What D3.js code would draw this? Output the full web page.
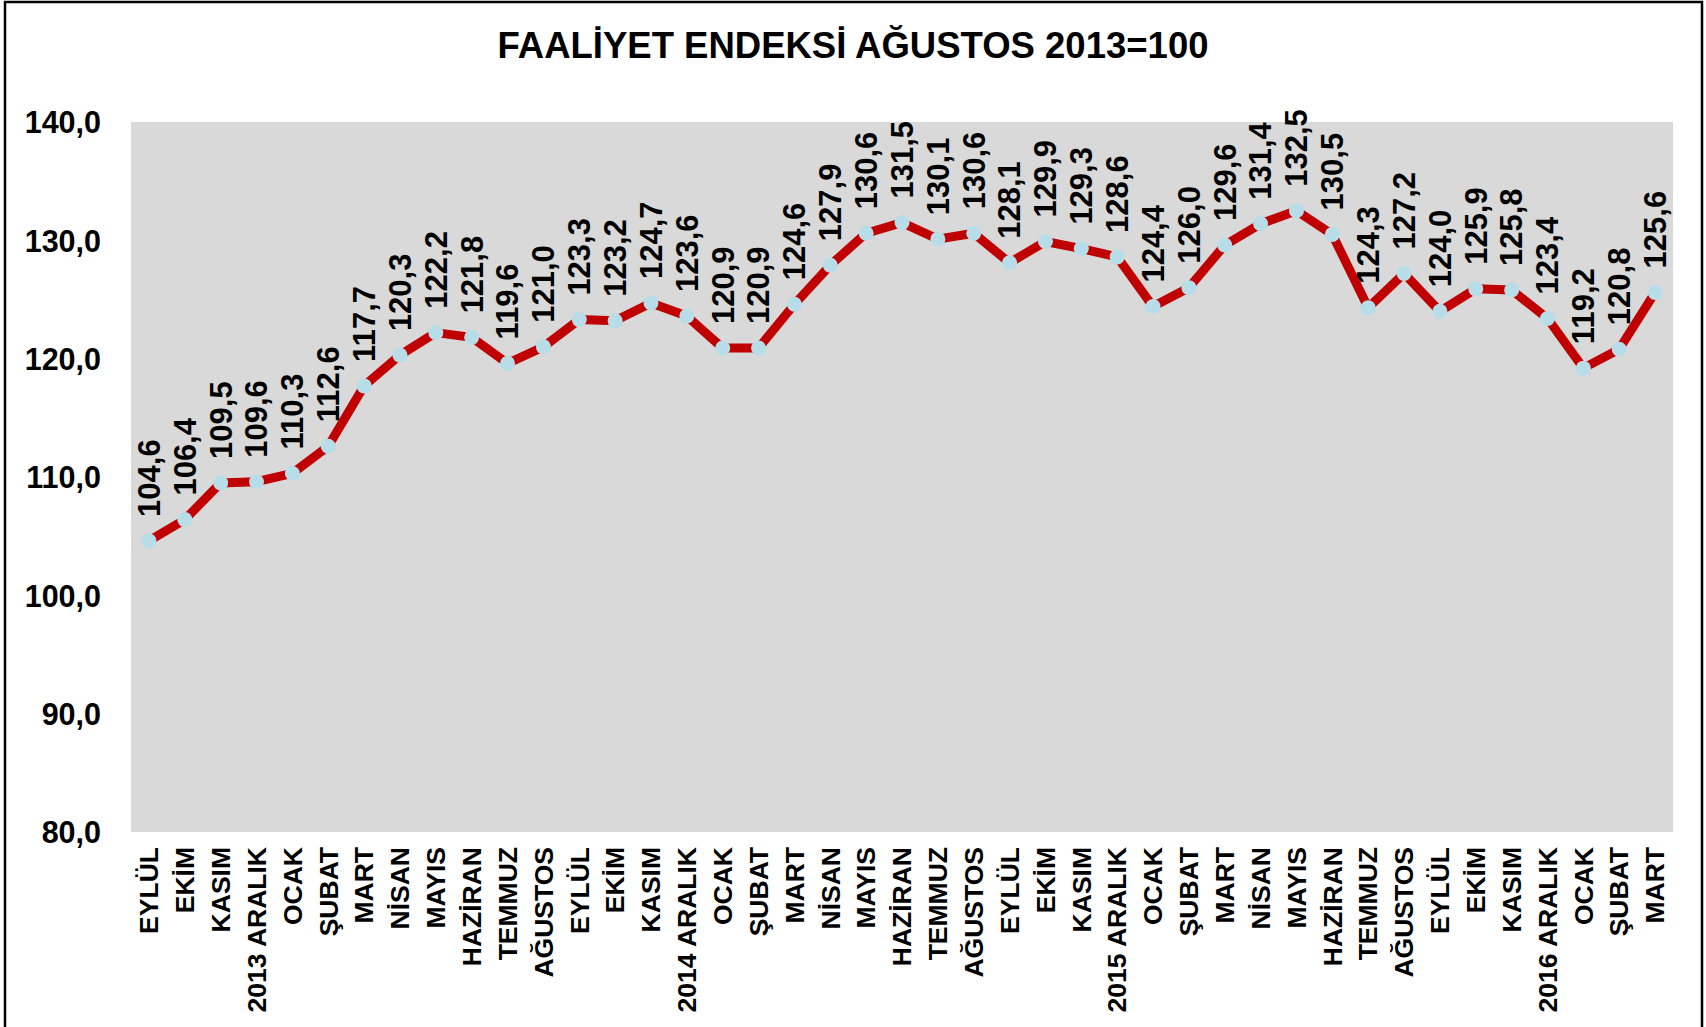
<!DOCTYPE html>
<html>
<head>
<meta charset="utf-8">
<script src="https://cdn.jsdelivr.net/npm/d3@7"></script>
<style>
  body { margin: 0; background: #fff; }
  text { font-family: "Liberation Sans", Arial, sans-serif; font-weight: bold; fill: #000; }
</style>
</head>
<body>
<svg id="chart" width="1706" height="1027"></svg>
<script>
// months (x axis categories)
var months = ["EYLÜL", "EKİM", "KASIM", "2013 ARALIK", "OCAK", "ŞUBAT", "MART", "NİSAN", "MAYIS", "HAZİRAN",
  "TEMMUZ", "AĞUSTOS", "EYLÜL", "EKİM", "KASIM", "2014 ARALIK", "OCAK", "ŞUBAT", "MART", "NİSAN",
  "MAYIS", "HAZİRAN", "TEMMUZ", "AĞUSTOS", "EYLÜL", "EKİM", "KASIM", "2015 ARALIK", "OCAK", "ŞUBAT",
  "MART", "NİSAN", "MAYIS", "HAZİRAN", "TEMMUZ", "AĞUSTOS", "EYLÜL", "EKİM", "KASIM", "2016 ARALIK",
  "OCAK", "ŞUBAT", "MART"];

// activity index values
var values = [104.6, 106.4, 109.5, 109.6, 110.3, 112.6, 117.7, 120.3, 122.2, 121.8,
  119.6, 121.0, 123.3, 123.2, 124.7, 123.6, 120.9, 120.9, 124.6, 127.9,
  130.6, 131.5, 130.1, 130.6, 128.1, 129.9, 129.3, 128.6, 124.4, 126.0,
  129.6, 131.4, 132.5, 130.5, 124.3, 127.2, 124.0, 125.9, 125.8, 123.4,
  119.2, 120.8, 125.6];

var yTicks = [80, 90, 100, 110, 120, 130, 140];

var data = months.map(function(m, i) { return { key: i, label: m, value: values[i] }; });

var svg = d3.select("#chart");
var fmt = function(v) { return d3.format(".1f")(v).replace(".", ","); };

// outer border
svg.append("rect")
  .attr("x", 5).attr("y", 2)
  .attr("width", 1697).attr("height", 1030)
  .attr("fill", "#fff")
  .attr("stroke", "#000")
  .attr("stroke-width", 2.5);

var margin = {top: 122, left: 131},
    width = 1673 - 131,
    height = 832 - 122;

var g = svg.append("g")
  .attr("transform", "translate(" + margin.left + "," + margin.top + ")");

var x = d3.scaleBand()
  .domain(data.map(function(d) { return d.key; }))
  .range([0, width]);

var y = d3.scaleLinear()
  .domain([80, 140])
  .range([height, 0]);

// plot area
g.append("rect")
  .attr("width", width)
  .attr("height", height)
  .attr("fill", "#d9d9d9");

// title
svg.append("text")
  .attr("x", 853)
  .attr("y", 58)
  .attr("text-anchor", "middle")
  .style("font-size", "36.5px")
  .text("FAALİYET ENDEKSİ AĞUSTOS 2013=100");

// y axis
var yAxis = g.append("g")
  .call(d3.axisLeft(y).tickValues(yTicks).tickSize(0).tickPadding(30).tickFormat(fmt));
yAxis.select(".domain").remove();
yAxis.selectAll("text")
  .style("font-size", "30.5px")
  .attr("font-family", null)
  .attr("dy", "0.36em");

// x axis
var xAxis = g.append("g")
  .attr("transform", "translate(0," + height + ")")
  .call(d3.axisBottom(x).tickSize(0).tickFormat(function(k) { return months[k]; }));
xAxis.select(".domain").remove();
xAxis.selectAll("text")
  .style("font-size", "26.5px")
  .attr("text-anchor", "end")
  .attr("transform", "translate(0,15) rotate(-90)")
  .attr("x", 0)
  .attr("y", 0)
  .attr("dy", "0.35em");

var cx = function(d) { return x(d.key) + x.bandwidth() / 2; };

// line
var line = d3.line()
  .x(cx)
  .y(function(d) { return y(d.value); });

g.append("path")
  .datum(data)
  .attr("fill", "none")
  .attr("stroke", "#c00000")
  .attr("stroke-width", 9)
  .attr("stroke-linejoin", "round")
  .attr("d", line);

// markers
g.selectAll(".dot")
  .data(data)
  .enter().append("circle")
  .attr("class", "dot")
  .attr("cx", cx)
  .attr("cy", function(d) { return y(d.value); })
  .attr("r", 7.5)
  .attr("fill", "#b7dee8");

// data labels
g.selectAll(".lbl")
  .data(data)
  .enter().append("text")
  .attr("class", "lbl")
  .attr("transform", function(d) { return "translate(" + cx(d) + "," + (y(d.value) - 24) + ") rotate(-90)"; })
  .attr("dy", "0.35em")
  .style("font-size", "31px")
  .text(function(d) { return fmt(d.value); });
</script>
</body>
</html>
